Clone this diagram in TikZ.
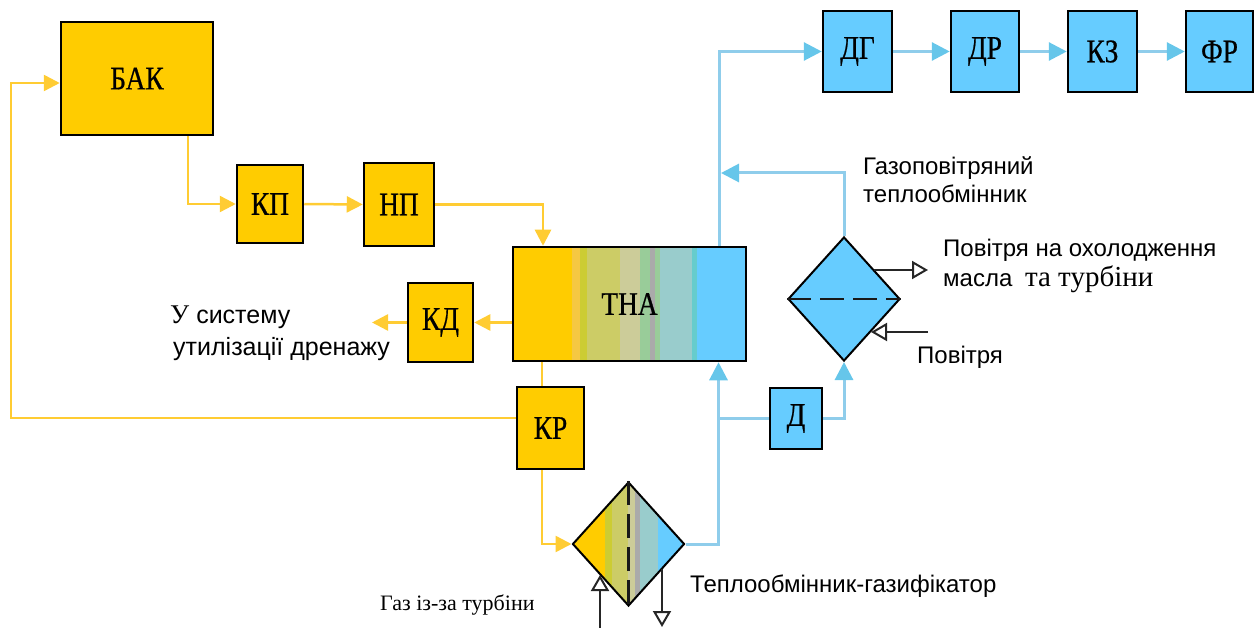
\documentclass[tikz,border=0pt]{standalone}
\usepackage{fontspec}
\setmainfont{Liberation Sans}
\newfontfamily\tnr{Liberation Serif}
\newfontfamily\tnrc[FakeStretch=0.83,FakeBold=0.6]{Liberation Serif}
\usetikzlibrary{arrows.meta,shapes.geometric}
\definecolor{yel}{HTML}{FFCC00}
\definecolor{blu}{HTML}{66CCFF}
\definecolor{ylc}{HTML}{FFCC33}
\definecolor{blc}{HTML}{8FCDEB}
\definecolor{bla}{HTML}{66C6EA}
\definecolor{sA}{HTML}{F5C842}
\definecolor{sB}{HTML}{CCCC33}
\definecolor{sC}{HTML}{CCCC66}
\definecolor{sD}{HTML}{CCCC99}
\definecolor{sE}{HTML}{99CC99}
\definecolor{sF}{HTML}{AAAAAA}
\definecolor{sG}{HTML}{99CCCC}
\definecolor{sH}{HTML}{66CCCC}
\newcommand\lblsize{\fontsize{24}{28}\selectfont}
\newcommand\boxsize{\fontsize{33}{36}\selectfont}
\newcommand\stripe[3]{\fill[#1] ([xshift=#2]path picture bounding box.south west) rectangle ([xshift=#3]path picture bounding box.north west);}
\begin{document}
\begin{tikzpicture}[x=1pt,y=-1pt,
  box/.style={draw=black, line width=2.5pt, inner sep=0pt, font=\tnrc\boxsize},
  ybox/.style={box, fill=yel},
  bbox/.style={box, fill=blu},
  hx/.style={diamond, draw=black, line width=2pt, inner sep=0pt, minimum width=112pt, minimum height=124pt},
  yl/.style={draw=ylc, line width=2.5pt},
  yarr/.style={yl, -{Triangle[length=16pt,width=16pt]}},
  bl/.style={draw=blc, line width=3pt},
  barr/.style={draw=blc, line width=3pt, -{Triangle[length=18pt,width=18pt,color=bla]}},
  oarr/.style={draw=black!85, line width=2pt, -{Triangle[open,length=16pt,width=18pt,line width=2pt]}},
  sep/.style={draw=black!90, line width=2.5pt, dash pattern=on 24pt off 9pt},
  lbl/.style={font=\lblsize, inner sep=0pt, anchor=base west}
]
\useasboundingbox (0,0) rectangle (1255,628);

% boxes
\node[ybox, minimum width=152pt, minimum height=113pt] (bak) at (137,78.5) {БАК};
\node[ybox, minimum width=66pt, minimum height=78pt] (kp) at (270,204) {КП};
\node[ybox, minimum width=70pt, minimum height=83pt] (np) at (399,204.5) {НП};
\node[box, minimum width=233pt, minimum height=114pt,
  path picture={
    \stripe{yel}{0}{59}\stripe{sA}{59}{67}\stripe{sB}{67}{74}\stripe{sC}{74}{107}
    \stripe{sD}{107}{127}\stripe{sE}{127}{137}\stripe{sF}{137}{142}\stripe{sE}{142}{147}
    \stripe{sG}{147}{179}\stripe{sH}{179}{184}\stripe{blu}{184}{240}
  }] (tha) at (629.5,304) {ТНА};
\node[ybox, minimum width=65pt, minimum height=79pt] (kd) at (440.5,322.5) {КД};
\node[ybox, minimum width=67pt, minimum height=82pt] (kr) at (550.5,428) {КР};
\node[bbox, minimum width=52pt, minimum height=61pt] (d) at (796,418.5) {Д};
\node[bbox, minimum width=69pt, minimum height=81pt] (dg) at (857.5,51.5) {ДГ};
\node[bbox, minimum width=68pt, minimum height=81pt] (dr) at (985,51.5) {ДР};
\node[bbox, minimum width=69pt, minimum height=81pt] (kz) at (1102.5,51.5) {КЗ};
\node[bbox, minimum width=67pt, minimum height=81pt] (fr) at (1219.5,51.5) {ФР};

% heat exchangers
\node[hx, path picture={
    \stripe{yel}{0}{32}\stripe{sB}{32}{39}\stripe{sC}{39}{55}\stripe{sD}{55}{62}
    \stripe{sF}{62}{67}\stripe{sG}{67}{85}\stripe{blu}{85}{120}
  }] (hx2) at (628.5,544) {};
\draw[sep] (hx2.north) -- (hx2.south);
\node[hx, fill=blu] (hx1) at (844,299) {};
\draw[sep] (hx1.west) -- (hx1.east);

% yellow connectors
\draw[yarr] (kr.west |- 0,418) -| (11,83) -- (bak.west |- 0,83);
\draw[yarr] ([xshift=51pt]bak.south) |- (kp.west);
\draw[yarr] (kp.east) -- (np.west);
\draw[yarr] (np.east) -| ([xshift=-86.5pt]tha.north);
\draw[yarr] (tha.west |- kd.east) -- (kd.east);
\coordinate (drain) at (372,322.5);
\draw[yarr] (kd.west) -- (drain);
\draw[yl] ([xshift=-87.5pt]tha.south) -- ([xshift=-8.5pt]kr.north);
\draw[yarr] ([xshift=-8.5pt]kr.south) |- (hx2.west);

% blue connectors
\draw[barr] (hx2.east) -| ([xshift=89pt]tha.south);
\coordinate (j1) at (718.5,418.5);
\draw[bl] (j1) -- (d.west);
\draw[barr] (d.east) -| (hx1.south);
\coordinate (j2) at (721,173);
\draw[barr] (hx1.north) |- (j2);
\draw[barr] ([xshift=90pt]tha.north) |- (dg.west);
\draw[barr] (dg.east) -- (dr.west);
\draw[barr] (dr.east) -- (kz.west);
\draw[barr] (kz.east) -- (fr.west);

% air / gas flows
\coordinate (ao1) at (874,270);
\coordinate (ao2) at (928,270);
\draw[oarr] (ao1) -- (ao2);
\coordinate (ai1) at (928,332);
\coordinate (ai2) at (871,332);
\draw[oarr] (ai1) -- (ai2);
\coordinate (gi1) at (600,628);
\coordinate (gi2) at (600,575);
\draw[oarr] (gi1) -- (gi2);
\coordinate (go1) at (662,569);
\coordinate (go2) at (662,627);
\draw[oarr] (go1) -- (go2);

% labels
\node[lbl] (t1) at (863,175) {Газоповітряний};
\node[lbl] (t2) at (863,203) {теплообмінник};
\node[lbl] (t3) at (943,257) {Повітря на охолодження};
\node[lbl] (t4) at (943,287) {масла\hspace{6pt} {\tnr\fontsize{29}{34}\selectfont та турбіни}};
\node[lbl] (t5) at (917,363) {Повітря};
\node[lbl, font=\fontsize{25}{28}\selectfont] (t6) at (170,323) {{\tnr\fontsize{27}{30}\selectfont У} систему};
\node[lbl, font=\fontsize{25}{28}\selectfont] (t7) at (173,355) {утилізації дренажу};
\node[lbl] (t8) at (690,592) {Теплообмінник-газифікатор};
\node[lbl, font=\tnr\fontsize{22}{26}\selectfont] (t9) at (380,610) {Газ із-за турбіни};
\end{tikzpicture}
\end{document}
